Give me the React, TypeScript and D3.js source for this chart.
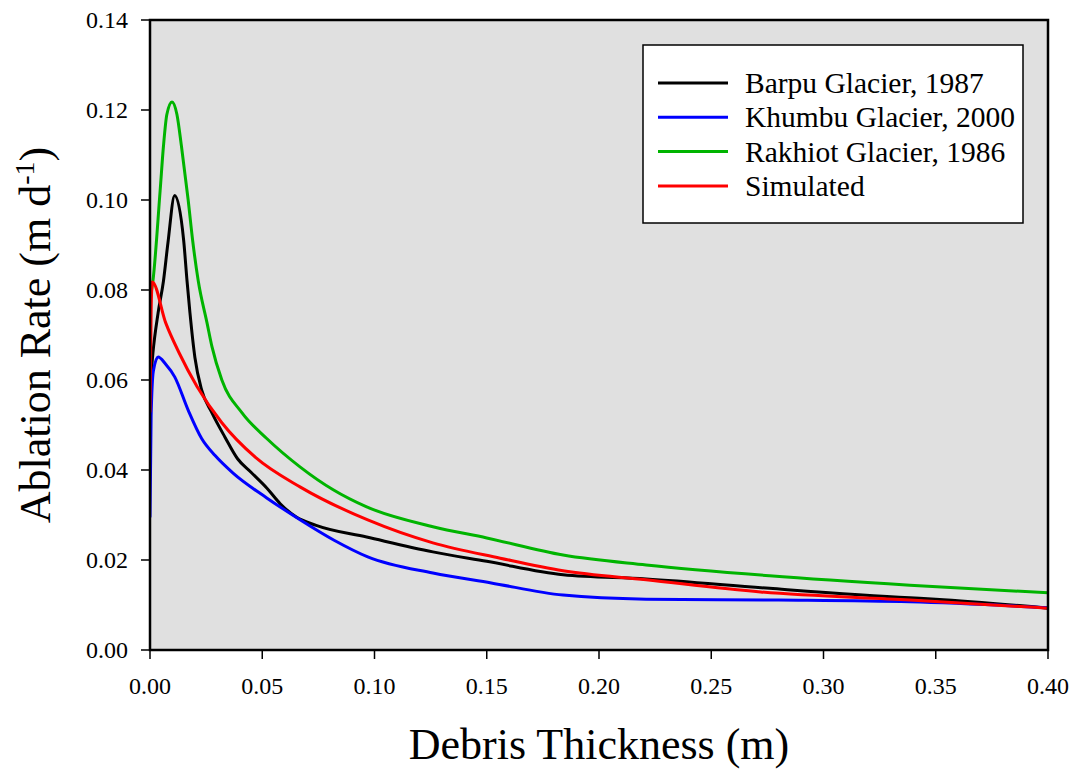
import React from "react";
import * as d3 from "d3";

// Debris thickness (m) and ablation rate (m/d) for each glacier curve
const barpuX = [0, 0.0013, 0.0036, 0.006, 0.008, 0.011, 0.015, 0.0165, 0.0178, 0.02, 0.023, 0.0276, 0.0334, 0.039, 0.045, 0.052, 0.058, 0.065, 0.074, 0.0965, 0.126, 0.15, 0.184, 0.221, 0.276, 0.3385, 0.35, 0.4];
const barpuY = [0.058, 0.066, 0.0749, 0.082, 0.0905, 0.101, 0.091, 0.082, 0.0749, 0.065, 0.0578, 0.0527, 0.0473, 0.0425, 0.0395, 0.036, 0.0325, 0.0296, 0.0277, 0.0251, 0.0218, 0.0197, 0.0167, 0.0158, 0.0137, 0.0116, 0.0113, 0.0093];

const khumbuX = [0, 0.0005, 0.0015, 0.0036, 0.007, 0.011, 0.017, 0.023, 0.029, 0.037, 0.052, 0.067, 0.082, 0.097, 0.126, 0.152, 0.184, 0.221, 0.28, 0.3385, 0.4];
const khumbuY = [0.0296, 0.052, 0.062, 0.0651, 0.0635, 0.0607, 0.0533, 0.047, 0.0432, 0.0393, 0.0338, 0.0289, 0.0244, 0.0207, 0.0171, 0.0149, 0.0122, 0.0113, 0.0111, 0.0107, 0.0094];

const rakhiotX = [0, 0.0013, 0.0045, 0.006, 0.0075, 0.0098, 0.012, 0.014, 0.017, 0.019, 0.0215, 0.0254, 0.0276, 0.032, 0.041, 0.052, 0.0668, 0.0816, 0.0965, 0.126, 0.15, 0.184, 0.221, 0.276, 0.3385, 0.4];
const rakhiotY = [0.078, 0.082, 0.102, 0.112, 0.119, 0.1218, 0.119, 0.112, 0.1, 0.091, 0.082, 0.0727, 0.0674, 0.06, 0.0527, 0.047, 0.0407, 0.0356, 0.0318, 0.0274, 0.0249, 0.0211, 0.0189, 0.0165, 0.0144, 0.0127];

const simulatedX = [0, 0.0005, 0.001, 0.007, 0.013, 0.021, 0.032, 0.047, 0.067, 0.097, 0.126, 0.156, 0.184, 0.221, 0.272, 0.3385, 0.4];
const simulatedY = [0.053, 0.075, 0.0818, 0.0727, 0.066, 0.0585, 0.0505, 0.0428, 0.0362, 0.0289, 0.0238, 0.0204, 0.0176, 0.0156, 0.0129, 0.0111, 0.0093];

const seriesNames = ["Barpu Glacier, 1987", "Khumbu Glacier, 2000", "Rakhiot Glacier, 1986", "Simulated"];
const seriesColors = ["#000000", "#0000ff", "#00b400", "#ff0000"];

const xTicks = [0, 0.05, 0.1, 0.15, 0.2, 0.25, 0.3, 0.35, 0.4];
const yTicks = [0, 0.02, 0.04, 0.06, 0.08, 0.1, 0.12, 0.14];

const W = 1075;
const H = 771;
const left = 150, right = 1048, top = 20, bottom = 650;
const FONT = "'Liberation Serif', 'Times New Roman', serif";

export default function App() {
  const x = d3.scaleLinear().domain([0, 0.4]).range([left, right]);
  const y = d3.scaleLinear().domain([0, 0.14]).range([bottom, top]);

  const line = d3
    .line<[number, number]>()
    .x((d) => x(d[0]))
    .y((d) => y(d[1]))
    .curve(d3.curveMonotoneX);

  const series = [
    [barpuX, barpuY],
    [khumbuX, khumbuY],
    [rakhiotX, rakhiotY],
    [simulatedX, simulatedY],
  ].map(([xs, ys]) => xs.map((v, i) => [v, ys[i]] as [number, number]));

  const legendX = 643, legendY = 45, legendW = 380, legendH = 178;
  const rowY = (i: number) => 83 + i * 34.3;

  return (
    <svg
      width={W}
      height={H}
      style={{ position: "absolute", left: 0, top: 0, background: "#ffffff" }}
      fontFamily={FONT}
    >
      <defs>
        <clipPath id="plotClip">
          <rect x={left} y={top} width={right - left} height={bottom - top} />
        </clipPath>
      </defs>

      {/* plot background */}
      <rect x={left} y={top} width={right - left} height={bottom - top} fill="#e0e0e0" />

      {/* curves */}
      <g clipPath="url(#plotClip)">
        {series.map((pts, i) => (
          <path
            key={i}
            d={line(pts) || ""}
            fill="none"
            stroke={seriesColors[i]}
            strokeWidth={3}
            strokeLinejoin="round"
            strokeLinecap="round"
          />
        ))}
      </g>

      {/* frame */}
      <rect
        x={left}
        y={top}
        width={right - left}
        height={bottom - top}
        fill="none"
        stroke="#000"
        strokeWidth={2.5}
      />

      {/* y axis ticks */}
      {yTicks.map((t) => (
        <g key={"y" + t}>
          <line x1={left - 9} x2={left} y1={y(t)} y2={y(t)} stroke="#000" strokeWidth={1.5} />
          <text
            x={128}
            y={y(t)}
            dy="0.35em"
            textAnchor="end"
            fontSize={24}
            fill="#000"
          >
            {t.toFixed(2)}
          </text>
        </g>
      ))}

      {/* x axis ticks */}
      {xTicks.map((t) => (
        <g key={"x" + t}>
          <line x1={x(t)} x2={x(t)} y1={bottom} y2={bottom + 9} stroke="#000" strokeWidth={1.5} />
          <text x={x(t)} y={694} textAnchor="middle" fontSize={24} fill="#000">
            {t.toFixed(2)}
          </text>
        </g>
      ))}

      {/* axis titles */}
      <text x={(left + right) / 2} y={759} textAnchor="middle" fontSize={44} fill="#000">
        Debris Thickness (m)
      </text>
      <text
        transform={`translate(50, ${(top + bottom) / 2}) rotate(-90)`}
        textAnchor="middle"
        fontSize={44}
        fill="#000"
      >
        Ablation Rate (m d
        <tspan fontSize={28} dy={-16}>-1</tspan>
        <tspan dy={16}>)</tspan>
      </text>

      {/* legend */}
      <rect x={legendX} y={legendY} width={legendW} height={legendH} fill="#ffffff" stroke="#000" strokeWidth={1.5} />
      {seriesNames.map((name, i) => (
        <g key={name}>
          <line x1={658} x2={728} y1={rowY(i)} y2={rowY(i)} stroke={seriesColors[i]} strokeWidth={3} />
          <text x={745} y={rowY(i) + 10} fontSize={29.5} fill="#000">
            {name}
          </text>
        </g>
      ))}
    </svg>
  );
}
